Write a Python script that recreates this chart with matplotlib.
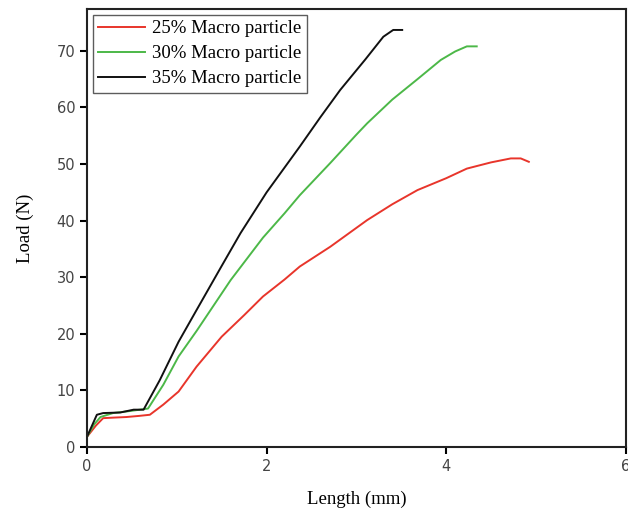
import numpy as np
import matplotlib
matplotlib.use("Agg")
import matplotlib.pyplot as plt

# values
x25 = [0.0, 0.10, 0.18, 0.30, 0.44, 0.58, 0.70, 0.85, 1.02, 1.22, 1.50, 1.75, 1.96, 2.20, 2.37, 2.71, 3.12, 3.40, 3.68, 4.00, 4.23, 4.50, 4.72, 4.83, 4.92]
y25 = [1.8, 3.8, 5.1, 5.2, 5.3, 5.5, 5.7, 7.5, 9.8, 14.2, 19.5, 23.3, 26.6, 29.6, 31.9, 35.4, 40.1, 42.9, 45.4, 47.5, 49.2, 50.3, 51.0, 51.0, 50.4]

x30 = [0.0, 0.08, 0.15, 0.29, 0.45, 0.59, 0.68, 0.85, 1.02, 1.22, 1.60, 1.96, 2.20, 2.37, 2.71, 3.00, 3.12, 3.40, 3.68, 3.94, 4.10, 4.23, 4.34]
y30 = [1.8, 4.0, 5.3, 6.0, 6.3, 6.6, 6.8, 11.0, 16.0, 20.5, 29.5, 37.0, 41.3, 44.5, 50.2, 55.2, 57.2, 61.4, 65.0, 68.4, 69.9, 70.8, 70.8]

x35 = [0.0, 0.11, 0.18, 0.37, 0.52, 0.63, 0.81, 1.02, 1.22, 1.50, 1.71, 2.00, 2.37, 2.60, 2.82, 3.10, 3.30, 3.41, 3.51]
y35 = [1.8, 5.7, 6.0, 6.1, 6.6, 6.6, 11.8, 18.6, 24.2, 32.0, 37.8, 45.0, 53.1, 58.3, 63.1, 68.5, 72.5, 73.7, 73.7]

labels = ['25% Macro particle', '30% Macro particle', '35% Macro particle']
colors = ['#e8352b', '#4cb848', '#111111']

fig = plt.figure(figsize=(6.28, 5.15), dpi=100)
ax = fig.add_axes([0.1385, 0.132, 0.858, 0.8505])

for xs, ys, lbl, c in zip([x25, x30, x35], [y25, y30, y35], labels, colors):
    ax.plot(xs, ys, color=c, lw=1.4, label=lbl)

ax.set_xlim(0, 6)
ax.set_ylim(0, 77.4)
ax.set_xticks([0, 2, 4, 6])
ax.set_yticks(np.arange(0, 71, 10))
ax.tick_params(direction='out', length=5, width=1.5, labelsize=10.5,
               labelcolor='#444444', top=False, right=False)
for s in ax.spines.values():
    s.set_linewidth(1.5)
    s.set_color('#222222')

ax.set_xlabel('Length (mm)', family='Liberation Serif', fontsize=13.5, labelpad=12)
ax.set_ylabel('Load (N)', family='Liberation Serif', fontsize=13.5, labelpad=16)

leg = ax.legend(loc='upper left', prop={'family': 'Liberation Serif', 'size': 13.5},
                frameon=True, fancybox=False, edgecolor='#333333',
                handlelength=2.5, borderpad=0.3, labelspacing=0.42,
                handletextpad=0.35, borderaxespad=0.3)
leg.get_frame().set_linewidth(1.0)

fig.savefig('out.png', dpi=100)
